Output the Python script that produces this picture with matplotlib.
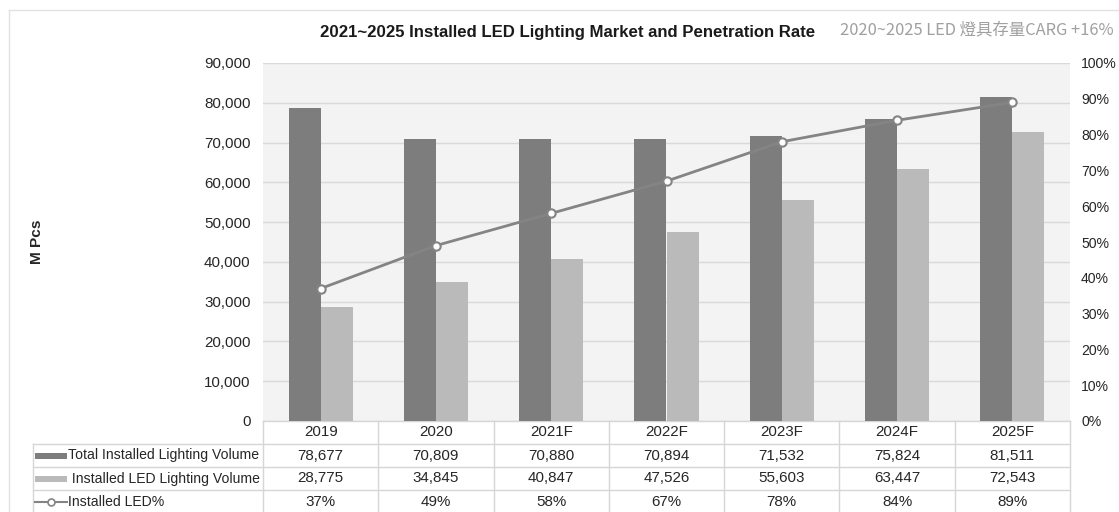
import matplotlib
matplotlib.use("Agg")
import matplotlib.pyplot as plt
from matplotlib import font_manager
from matplotlib.lines import Line2D
from matplotlib.patches import Rectangle
import numpy as np

# ---------------- data ----------------
categories = ['2019', '2020', '2021F', '2022F', '2023F', '2024F', '2025F']
total_volume = [78677, 70809, 70880, 70894, 71532, 75824, 81511]
led_volume = [28775, 34845, 40847, 47526, 55603, 63447, 72543]
led_pct = [37, 49, 58, 67, 78, 84, 89]
series_names = ['Total Installed Lighting Volume', ' Installed LED Lighting Volume', 'Installed LED%']
left_ticks = [0, 10000, 20000, 30000, 40000, 50000, 60000, 70000, 80000, 90000]
right_ticks = [0, 10, 20, 30, 40, 50, 60, 70, 80, 90, 100]
title = '2021~2025 Installed LED Lighting Market and Penetration Rate'
subtitle = '2020~2025 LED 燈具存量CARG +16%'
y_label = 'M Pcs'

# ---------------- style ----------------
names = {f.name for f in font_manager.fontManager.ttflist}
FAM = 'Liberation Sans Narrow' if 'Liberation Sans Narrow' in names else 'Liberation Sans'
plt.rcParams['font.family'] = [FAM, 'DejaVu Sans']

W, H, DPI = 1119, 512, 100
fig = plt.figure(figsize=(W / DPI, H / DPI), dpi=DPI, facecolor='white')
renderer = fig.canvas.get_renderer()

def px_x(x):
    return x / W

def px_y(y):
    return 1 - y / H

# plot area in pixels
L, R, T, B = 263, 1070, 63, 421
ax = fig.add_axes([px_x(L), px_y(B), px_x(R) - px_x(L), px_y(T) - px_y(B)])
ax.set_facecolor('#f3f3f3')

DARK = '#7d7d7d'
LIGHT = '#bababa'
LINEC = '#848484'
TXT = '#262626'
BORDER = '#d6d6d6'

# fit the header text size to the header column width
probe = fig.text(0, 0, 'Total Installed Lighting Volume', fontsize=10)
w = probe.get_window_extent(renderer).width
FSH = 10 * 190.0 / w
probe.remove()
FS = FSH * 1.08

x = np.arange(len(categories))
bw = 0.278
ax.bar(x - bw / 2, total_volume, bw, color=DARK, zorder=2)
ax.bar(x + bw / 2, led_volume, bw, color=LIGHT, zorder=2)
ax.set_xlim(-0.5, len(categories) - 0.5)
ax.set_ylim(0, 90000)
ax.set_yticks(left_ticks)
ax.set_yticklabels([f'{v:,}' for v in left_ticks], fontsize=FS, color=TXT)
ax.tick_params(axis='y', length=0, pad=9)
ax.set_xticks([])
ax.grid(axis='y', color='#d9d9d9', linewidth=1, zorder=0)
ax.set_axisbelow(True)
for s in ax.spines.values():
    s.set_visible(False)

ax2 = ax.twinx()
ax2.plot(x, [p / 100 for p in led_pct], color=LINEC, linewidth=2.0, marker='o',
         markersize=6, markerfacecolor='white', markeredgecolor=LINEC,
         markeredgewidth=1.5, zorder=3)
ax2.set_ylim(0, 1)
ax2.set_yticks([t / 100 for t in right_ticks])
ax2.set_yticklabels([f'{t}%' for t in right_ticks], fontsize=FSH, color=TXT)
ax2.tick_params(axis='y', length=0, pad=8)
for s in ax2.spines.values():
    s.set_visible(False)

# ---------------- data table ----------------
axh = B - T
rh = 23.0 / axh          # row height in axes fraction
ncat = len(categories)
hx0 = (33 - L) / (R - L)  # header column left edge in axes fraction

def hline(x0, x1, y):
    ax.add_line(Line2D([x0, x1], [y, y], transform=ax.transAxes, color=BORDER,
                       linewidth=1, clip_on=False, zorder=1))

def vline(xx, y0, y1):
    ax.add_line(Line2D([xx, xx], [y0, y1], transform=ax.transAxes, color=BORDER,
                       linewidth=1, clip_on=False, zorder=1))

hline(0, 1, 0)
for r in range(1, 5):
    hline(hx0, 1, -r * rh)
vline(hx0, -rh, -4 * rh)
for k in range(ncat + 1):
    vline(k / ncat, 0, -4 * rh)

rows = [categories,
        [f'{v:,}' for v in total_volume],
        [f'{v:,}' for v in led_volume],
        [f'{v}%' for v in led_pct]]
for r, vals in enumerate(rows):
    yc = -(r + 0.5) * rh
    for k, v in enumerate(vals):
        ax.text((k + 0.5) / ncat, yc, v, transform=ax.transAxes, ha='center',
                va='center', fontsize=FS, color=TXT, clip_on=False)

# header column with legend keys
kx0 = (35 - L) / (R - L)
kx1 = (67 - L) / (R - L)
sh = 6.0 / axh
for r, (nm, col) in enumerate(zip(series_names[:2], [DARK, LIGHT])):
    yc = -(r + 1.5) * rh
    ax.add_patch(Rectangle((kx0, yc - sh / 2), kx1 - kx0, sh, transform=ax.transAxes,
                           facecolor=col, edgecolor='none', clip_on=False))
    ax.text((68 - L) / (R - L), yc, nm, transform=ax.transAxes, ha='left', va='center',
            fontsize=FSH, color=TXT, clip_on=False)
yc = -3.5 * rh
ax.add_line(Line2D([kx0, kx1], [yc, yc], transform=ax.transAxes, color=LINEC,
                   linewidth=1.5, clip_on=False))
ax.add_line(Line2D([(kx0 + kx1) / 2], [yc], transform=ax.transAxes, marker='o',
                   markersize=5, markerfacecolor='white', markeredgecolor=LINEC,
                   markeredgewidth=1.2, linestyle='none', clip_on=False))
ax.text((68 - L) / (R - L), yc, series_names[2], transform=ax.transAxes, ha='left',
        va='center', fontsize=FSH, color=TXT, clip_on=False)

# ---------------- titles ----------------
t = fig.text(px_x(320), px_y(33), title, fontsize=14, fontweight='bold',
             color='#1a1a1a', ha='left', va='center')
t.set_fontsize(14 * 495.0 / t.get_window_extent(renderer).width)

st = fig.text(px_x(840), px_y(30), subtitle, fontsize=11, color='#a0a0a0',
              ha='left', va='center', family=['Noto Sans CJK TC', 'DejaVu Sans'])
st.set_fontsize(11 * 273.0 / st.get_window_extent(renderer).width)

fig.text(px_x(37), px_y(242), y_label, rotation=90, fontsize=FS * 1.02,
         fontweight='bold', color=TXT, ha='center', va='center')

# faint frame
fig.add_artist(Line2D([px_x(9), 1], [px_y(10), px_y(10)], transform=fig.transFigure,
                      color='#e2e2e2', linewidth=1))
fig.add_artist(Line2D([px_x(9), px_x(9)], [0, px_y(10)], transform=fig.transFigure,
                      color='#e2e2e2', linewidth=1))

fig.savefig('out.png', dpi=DPI, facecolor='white')
